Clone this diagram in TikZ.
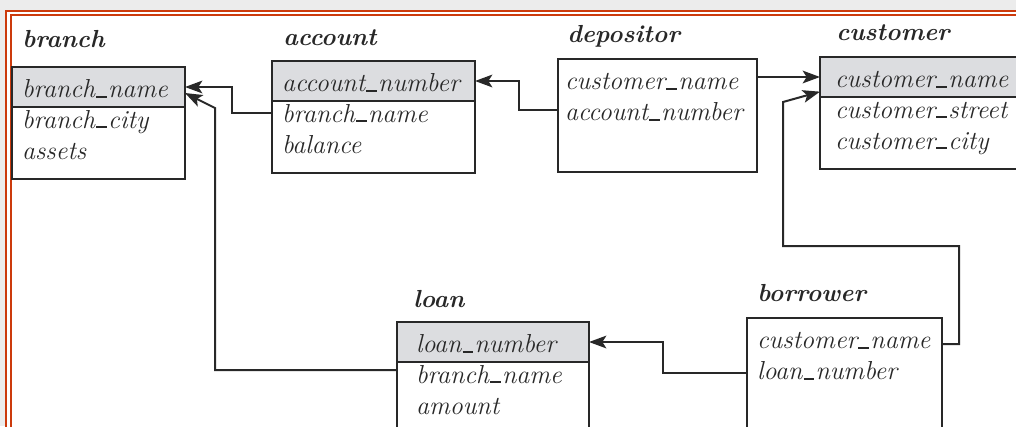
\documentclass[tikz,border=0pt]{standalone}
\usepackage{tikz}
\usetikzlibrary{arrows.meta, positioning}
\definecolor{frameRed}{RGB}{204, 58, 12}
\definecolor{pageGray}{RGB}{236, 236, 236}
\definecolor{keyFill}{RGB}{220, 221, 224}
\definecolor{lineColor}{RGB}{40, 40, 40}
\newcommand{\attrfont}{\fontsize{19.5}{23.25}\selectfont\itshape}
\newcommand{\us}{\kern0.04em\rule{0.42em}{0.06em}\kern0.04em}
\tikzset{
    rel_title/.style={
        anchor=base west,
        inner sep=0pt,
        text=lineColor,
        font=\fontsize{18.5}{22}\selectfont\bfseries\itshape
    },
    rel_key/.style={
        draw=lineColor,
        line width=1.5pt,
        fill=keyFill,
        anchor=north west,
        outer sep=0pt,
        inner xsep=7.5pt,
        inner ysep=0pt,
        align=left,
        text=lineColor,
        text height=22.9pt,
        text depth=7.1pt,
        font=\attrfont
    },
    rel_attrs/.style={
        draw=lineColor,
        line width=1.5pt,
        fill=white,
        anchor=north west,
        outer sep=0pt,
        inner xsep=7.5pt,
        inner ysep=0pt,
        align=left,
        text=lineColor,
        text height=15.75pt,
        font=\attrfont
    },
    fk_edge/.style={
        -{Stealth[length=13pt, width=9.5pt, inset=3pt]},
        line width=1.5pt,
        draw=lineColor
    }
}

\begin{document}
\begin{tikzpicture}[x=0.75pt, y=-0.75pt]
    \useasboundingbox (0,0) rectangle (1016,426);
    \clip (0,0) rectangle (1016,426);

    % slide frame
    \fill[pageGray] (0,0) rectangle (1016,426);
    \fill[white] (4.5,9.5) rectangle (1040,450);
    \draw[frameRed, line width=1.5pt] (6,11) rectangle (1040,450);
    \draw[frameRed, line width=1.5pt] (10.5,15) rectangle (1040,450);

    % relations
    \node[rel_title] (br-t) at (22,47) {branch};
    \node[rel_key, text width=114.75pt] (br-k) at (12,67) {branch\us name};
    \node[rel_attrs, text width=114.75pt, text depth=38.25pt] (br-b) at (br-k.south west) {branch\us city\\assets};

    \node[rel_title] (acc-t) at (283,45) {account};
    \node[rel_key, text width=137.25pt] (acc-k) at (272,61) {account\us number};
    \node[rel_attrs, text width=137.25pt, text depth=38.25pt] (acc-b) at (acc-k.south west) {branch\us name\\balance};

    \node[rel_title] (dep-t) at (567,42) {depositor};
    \node[rel_key, fill=white, inner xsep=5.25pt, text width=138.75pt, text depth=61.85pt] (dep) at (558,59) {customer\us name\\account\us number};

    \node[rel_title] (cust-t) at (836,40) {customer};
    \node[rel_key, inner xsep=11.25pt, text width=138.75pt] (cust-k) at (820,57) {customer\us name};
    \node[rel_attrs, inner xsep=11.25pt, text width=138.75pt, text depth=38.25pt] (cust-b) at (cust-k.south west) {customer\us street\\customer\us city};

    \node[rel_title] (loan-t) at (413,307) {loan};
    \node[rel_key, inner xsep=14.25pt, text width=115.5pt] (loan-k) at (397,322) {loan\us number};
    \node[rel_attrs, inner xsep=14.25pt, text width=115.5pt, text depth=50.25pt] (loan-b) at (loan-k.south west) {branch\us name\\amount};

    \node[rel_title] (bor-t) at (757,301) {borrower};
    \node[rel_key, fill=white, text width=131.25pt, text depth=76.1pt] (bor) at (747,318) {customer\us name\\loan\us number};

    % foreign keys
    \draw[fk_edge] ([yshift=-9pt]acc-b.north west) -- ++(-40,0) |- (br-k.east);
    \draw[fk_edge] ([yshift=4pt]dep.west) -- ++(-39,0) |- (acc-k.east);
    \draw[fk_edge] (dep.east |- cust-k.west) -- (cust-k.west);
    \draw[fk_edge] ([yshift=30pt]bor.east) -- ++(17,0) -- ++(0,-98) -- ++(-176,0) -- ++(0,-144) -- ([yshift=-11pt]cust-k.west);
    \draw[fk_edge] ([yshift=8.25pt]bor.west) -- ++(-84,0) |- (loan-k.east);
    \draw[fk_edge] ([yshift=-6pt]loan-b.north west) -- ++(-182,0) -- ++(0,-262) -- ([yshift=-4.5pt]br-k.east);
\end{tikzpicture}
\end{document}
